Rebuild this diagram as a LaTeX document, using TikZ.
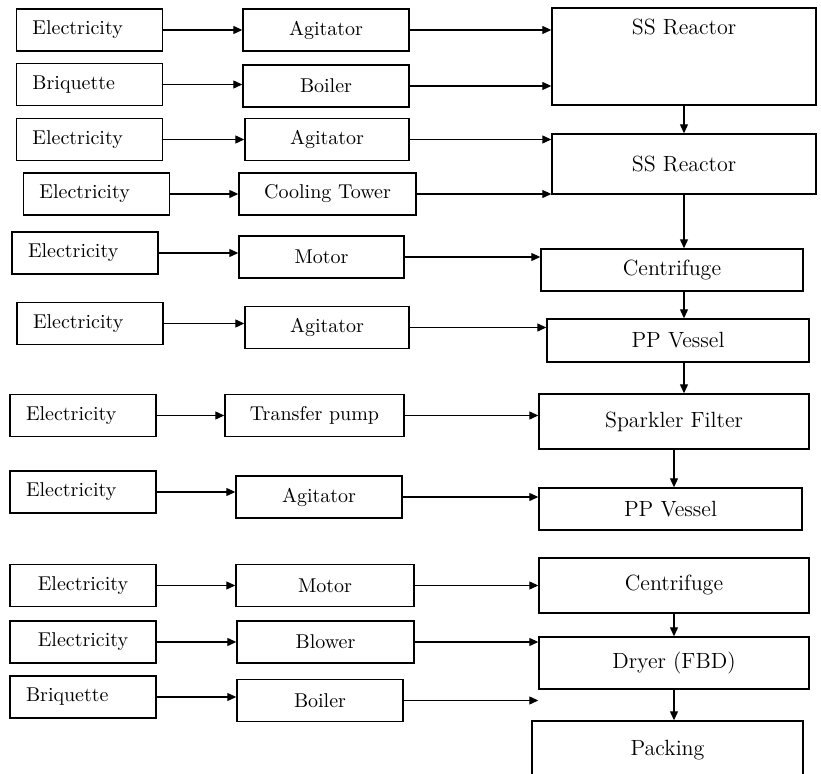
\documentclass[tikz,border=0pt]{standalone}
\usepackage{amsmath}
\usetikzlibrary{arrows.meta}

\begin{document}
\begin{tikzpicture}[x=0.5pt,y=-0.5pt,
    src/.style={draw,line width=0.7pt,minimum height=21pt,text width=57pt,inner xsep=8pt,align=left,font=\fontsize{10}{12}\selectfont},
    unit/.style={draw,line width=0.7pt,minimum width=83pt,minimum height=21pt,align=center,font=\fontsize{10}{12}\selectfont},
    proc/.style={draw,line width=0.7pt,minimum width=131pt,minimum height=21pt,font=\fontsize{11}{13}\selectfont},
    flow/.style={line width=0.6pt,-{Triangle[length=4.5pt,width=4pt]}}]
    \useasboundingbox (0,0) rectangle (821,774);
    \clip (0,0) rectangle (821,774);
    \node[src] (e1) at (89.5,30) {Electricity};
    \node[src] (b1) at (89.5,84.5) {Briquette};
    \node[src] (e2) at (89.5,139.5) {Electricity};
    \node[src] (e3) at (96.5,194) {Electricity};
    \node[src] (e4) at (85,253) {Electricity};
    \node[src] (e5) at (90,323.5) {Electricity};
    \node[src] (e6) at (83,415.5) {Electricity};
    \node[src] (e7) at (83,492) {Electricity};
    \node[src,align=center] (e8) at (83,585.5) {Electricity};
    \node[src,align=center] (e9) at (83,642) {Electricity};
    \node[src] (b2) at (83,697) {Briquette};
    \node[unit] (ag1) at (326,30) {Agitator};
    \node[unit] (bo1) at (326,86) {Boiler};
    \node[unit,minimum width=82pt] (ag2) at (327,139.5) {Agitator};
    \node[unit,minimum width=88.5pt] (ct) at (327.5,194) {Cooling Tower};
    \node[unit,minimum width=82.5pt] (mo1) at (321.5,257) {Motor};
    \node[unit,minimum width=82pt] (ag3) at (327,327.5) {Agitator};
    \node[unit,minimum width=89.5pt] (tp) at (314.5,415.5) {Transfer pump};
    \node[unit] (ag4) at (319,497) {Agitator};
    \node[unit,minimum width=89pt] (mo2) at (325,585.5) {Motor};
    \node[unit,minimum width=88.5pt] (bl) at (325.5,642) {Blower};
    \node[unit] (bo2) at (320,700.5) {Boiler};
    \node[proc,minimum width=132pt,text height=13.5pt,text depth=35pt,inner ysep=0pt] (r1) at (684,56.5) {SS Reactor};
    \node[proc,minimum width=132pt,minimum height=30pt] (r2) at (684,164) {SS Reactor};
    \node[proc] (cf1) at (672,270) {Centrifuge};
    \node[proc,minimum height=21.5pt] (pv1) at (678,340.5) {PP Vessel};
    \node[proc,minimum width=135pt,minimum height=27.5pt] (sf) at (674,421.5) {Sparkler Filter};
    \node[proc,minimum width=131.5pt] (pv2) at (670.5,509) {PP Vessel};
    \node[proc,minimum width=135pt,minimum height=27.5pt] (cf2) at (674,585.5) {Centrifuge};
    \node[proc,minimum width=135pt,minimum height=26pt] (dr) at (674,663) {Dryer (FBD)};
    \node[proc,minimum width=135.5pt,minimum height=29pt] (pk) at (667.5,750) {Packing};
    \draw[flow] (e1) -- (e1 -| ag1.west);
    \draw[flow] (b1) -- (b1 -| bo1.west);
    \draw[flow] (e2) -- (e2 -| ag2.west);
    \draw[flow] (e3) -- (e3 -| ct.west);
    \draw[flow] (e4) -- (e4 -| mo1.west);
    \draw[flow] (e5) -- (e5 -| ag3.west);
    \draw[flow] (e6) -- (e6 -| tp.west);
    \draw[flow] (e7) -- (e7 -| ag4.west);
    \draw[flow] (e8) -- (e8 -| mo2.west);
    \draw[flow] (e9) -- (e9 -| bl.west);
    \draw[flow] (b2) -- (b2 -| bo2.west);
    \draw[flow] (ag1) -- (ag1 -| r1.west);
    \draw[flow] (bo1) -- (bo1 -| r1.west);
    \draw[flow] (ag2) -- (ag2 -| r2.west);
    \draw[flow] (ct) -- (ct -| r2.west);
    \draw[flow] (mo1) -- (mo1 -| cf1.west);
    \draw[flow] (ag3) -- (ag3 -| pv1.west);
    \draw[flow] (tp) -- (tp -| sf.west);
    \draw[flow] (ag4) -- (ag4 -| pv2.west);
    \draw[flow] (mo2) -- (mo2 -| cf2.west);
    \draw[flow] (bl) -- (bl -| dr.west);
    \draw[flow] (bo2) -- (bo2 -| dr.west);
    \draw[flow] (r1) -- (r1 |- r2.north);
    \draw[flow] (r2) -- (r2 |- cf1.north);
    \draw[flow] (r2 |- cf1.south) -- (r2 |- pv1.north);
    \draw[flow] (r2 |- pv1.south) -- (r2 |- sf.north);
    \draw[flow] (sf) -- (sf |- pv2.north);
    \draw[flow] (cf2) -- (dr);
    \draw[flow] (dr) -- (dr |- pk.north);
\end{tikzpicture}
\end{document}
